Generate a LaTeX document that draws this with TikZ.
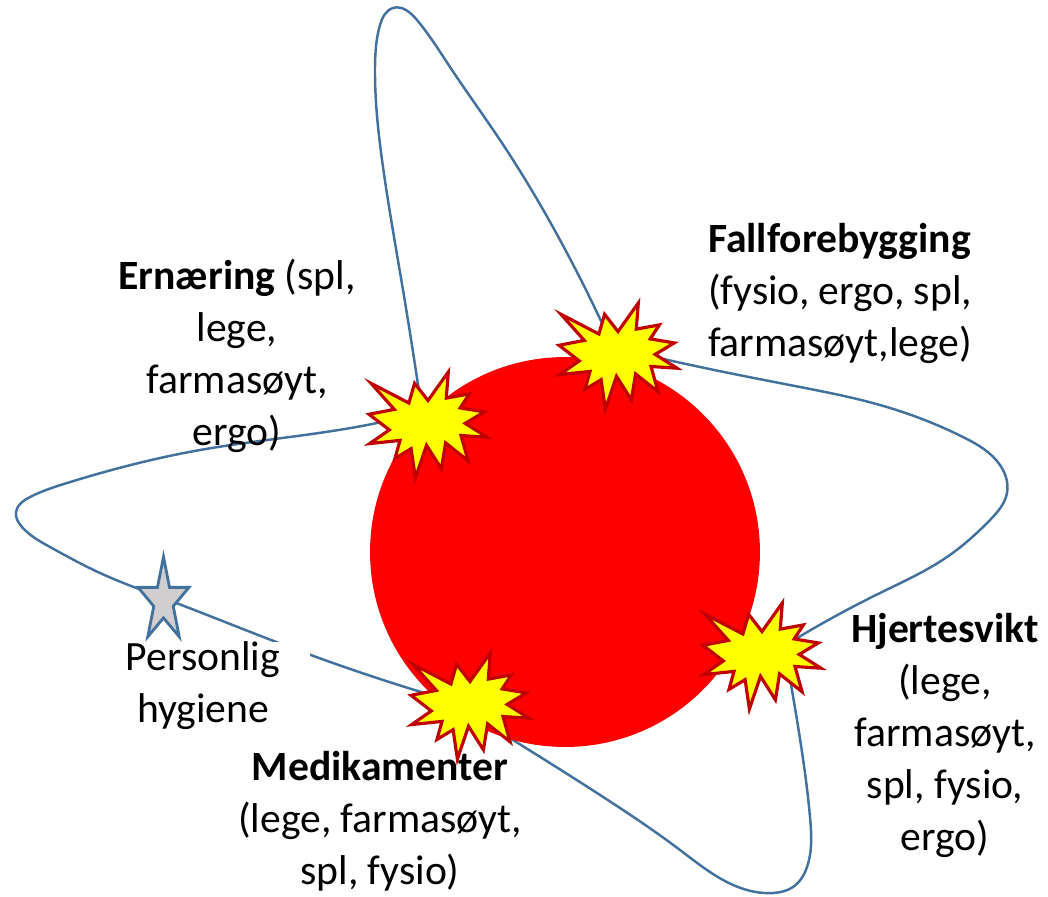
\documentclass[tikz,border=0pt]{standalone}
\usepackage{fontspec}
\setmainfont{Carlito}
\usetikzlibrary{calc,hobby}
\definecolor{orbit}{HTML}{41719C}
\definecolor{flare}{HTML}{FFFF00}
\definecolor{flareedge}{HTML}{C00000}
\definecolor{starfill}{HTML}{D0CECE}

\tikzset{
  boom/.pic={
    \filldraw[fill=flare,draw=flareedge,line width=1.8pt]
      (0,-24.5) -- (-13.4,-41.7) -- (-19.1,-22.0) -- (-57.0,-41.7) -- (-33.7,-15.6)
      -- (-59.0,-10.7) -- (-38.7,4.9) -- (-58.3,18.6) -- (-28.0,15.4) -- (-33.0,33.4)
      -- (-16.9,23.7) -- (-12.6,53.0) -- (-1.5,20.3) -- (13.4,43.8) -- (17.6,17.9)
      -- (40.1,35.8) -- (33.0,10.5) -- (59.0,12.2) -- (37.2,-1.6) -- (56.3,-13.1)
      -- (32.2,-17.1) -- (41.4,-31.1) -- (18.3,-26.9) -- (20.3,-53.0) -- cycle;
  }
}

\begin{document}
\begin{tikzpicture}[x=0.02cm,y=-0.02cm,
  orbitline/.style={draw=orbit,line width=1.4pt,use Hobby shortcut},
  lbl/.style={align=center,font=\fontsize{23.7}{29.6}\selectfont,inner sep=0pt}]
  \useasboundingbox (0,0) rectangle (1048,896);
  % corners of the orbit, hidden under the flares
  \coordinate (cE) at (422,412);
  \coordinate (cF) at (613,347);
  \coordinate (cH) at (784,646);
  \coordinate (cM) at (448,700);
  % orbit, one lobe at a time
  \draw[orbitline] (cE) .. (377,423) .. (200,450) .. (67,483) .. (30,497) .. (16,512)
    .. (22,527) .. (50,547) .. (100,573) .. (163,598) .. (300,651) .. (cM);
  \draw[orbitline] (cE) .. (403,290) .. (383,167) .. (375,67) .. (380,25) .. (393,8)
    .. (417,20) .. (450,67) .. (500,140) .. (567,253) .. (cF);
  \draw[orbitline] (cF) .. (700,367) .. (800,387) .. (880,405) .. (963,437) .. (1000,465)
    .. (1007,493) .. (990,520) .. (947,557) .. (880,593) .. (cH);
  \draw[orbitline] (cH) .. (797,720) .. (810,817) .. (807,867) .. (793,887) .. (773,893)
    .. (747,890) .. (680,850) .. (597,793) .. (513,740) .. (cM);
  \node[circle,fill=red,minimum size=7.8cm,inner sep=0pt] (core) at (565,552) {};
  \pic at (428,425) {boom};
  \pic at (618,356) {boom};
  \pic at (762,656) {boom};
  \pic at (470,706) {boom};
  % personal hygiene star
  \draw[draw=orbit,line width=1.6pt,fill=starfill,shift={(163.5,601)}]
    (-90:26.8 and 44.2) \foreach \i in {1,...,9}{
      -- ({-90+36*\i}:{26.8*(1-0.618*mod(\i,2))} and {44.2*(1-0.618*mod(\i,2))})} -- cycle;
  \node[lbl,fill=white,inner xsep=0.6cm] (hygiene) at (203,686) {Personlig\\hygiene};
  \node[lbl] (ernaering) at (237,356) {\textbf{Ernæring} (spl,\\lege,\\farmasøyt,\\ergo)};
  \node[lbl,align=left] (fall) at (840,293) {\textbf{Fallforebygging}\\(fysio, ergo, spl,\\farmasøyt,lege)};
  \node[lbl] (hjerte) at (945,735) {\textbf{Hjertesvikt}\\(lege,\\farmasøyt,\\spl, fysio,\\ergo)};
  \node[lbl] (medik) at (380,821) {\textbf{Medikamenter}\\(lege, farmasøyt,\\spl, fysio)};
\end{tikzpicture}
\end{document}
